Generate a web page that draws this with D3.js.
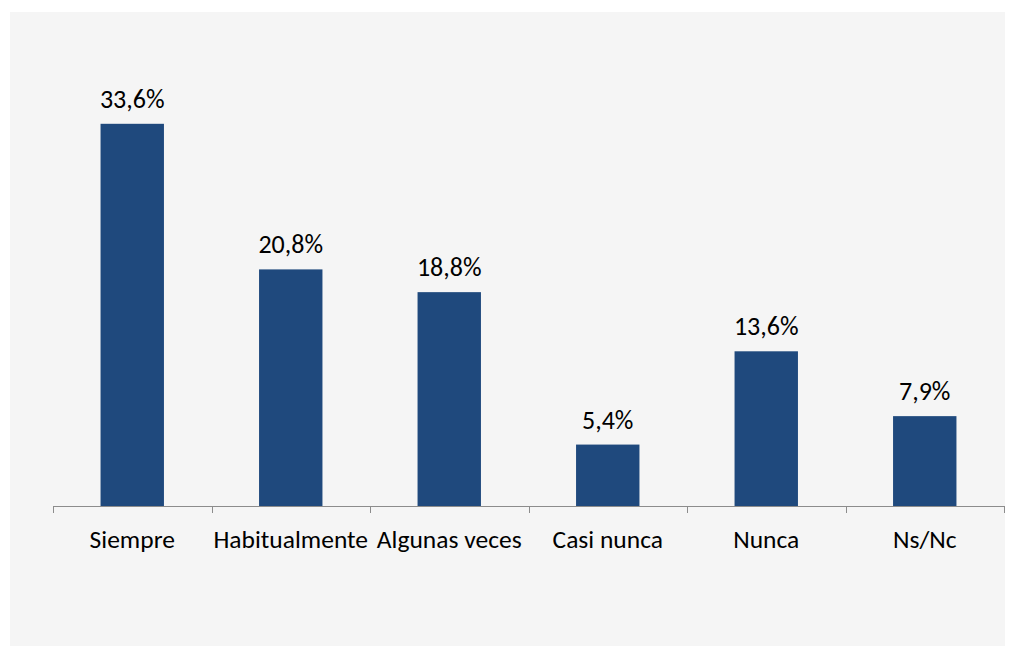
<!DOCTYPE html>
<html>
<head>
<meta charset="utf-8">
<script src="https://cdn.jsdelivr.net/npm/d3@7"></script>
<style>
  html, body { margin: 0; padding: 0; background: #ffffff; }
  svg { display: block; }
  text { font-family: Carlito, Calibri, Lato, "Open Sans", sans-serif; fill: #000; }
</style>
</head>
<body>
<svg id="chart" width="1015" height="646"></svg>
<script>
// Survey responses (percent of respondents)
const categories = ["Siempre", "Habitualmente", "Algunas veces", "Casi nunca", "Nunca", "Ns/Nc"];
const values = [33.6, 20.8, 18.8, 5.4, 13.6, 7.9];
const valueLabels = ["33,6%", "20,8%", "18,8%", "5,4%", "13,6%", "7,9%"];

const svg = d3.select("#chart");

// chart area background
svg.append("rect")
  .attr("x", 10).attr("y", 12)
  .attr("width", 995).attr("height", 634)
  .attr("fill", "#f5f5f5");

const x = d3.scaleBand()
  .domain(categories)
  .range([53, 1004])
  .paddingInner(0.6)
  .paddingOuter(0.3);

const y = d3.scaleLinear()
  .domain([0, 40])
  .range([506, 51]);

const data = categories.map((c, i) => ({ c, v: values[i], label: valueLabels[i] }));

// bars
svg.append("g").selectAll("rect")
  .data(data)
  .join("rect")
  .attr("x", d => x(d.c))
  .attr("y", d => y(d.v))
  .attr("width", x.bandwidth())
  .attr("height", d => y(0) - y(d.v))
  .attr("fill", "#1f497d");

// value labels
svg.append("g").selectAll("text")
  .data(data)
  .join("text")
  .attr("x", d => x(d.c) + x.bandwidth() / 2)
  .attr("y", d => y(d.v) - 16)
  .attr("text-anchor", "middle")
  .style("font-size", "26px")
  .text(d => d.label);

// category axis
const axisBand = d3.scaleBand().domain(categories).range([53, 1004]);
const gx = svg.append("g").attr("transform", "translate(0,506)");
gx.append("line")
  .attr("x1", 53).attr("x2", 1004)
  .attr("y1", 0.5).attr("y2", 0.5)
  .attr("stroke", "#8c8c8c").attr("stroke-width", 1);
// tick marks at category boundaries
const bounds = categories.map(c => axisBand(c)).concat([axisBand.range()[1]]);
gx.selectAll("line.tick")
  .data(bounds)
  .join("line")
  .attr("class", "tick")
  .attr("x1", d => Math.round(d) + 0.5).attr("x2", d => Math.round(d) + 0.5)
  .attr("y1", 0).attr("y2", 7)
  .attr("stroke", "#8c8c8c").attr("stroke-width", 1);
// category labels
gx.selectAll("text.cat")
  .data(categories)
  .join("text")
  .attr("class", "cat")
  .attr("x", d => axisBand(d) + axisBand.bandwidth() / 2)
  .attr("y", 42)
  .attr("text-anchor", "middle")
  .style("font-size", "25.5px")
  .text(d => d);
</script>
</body>
</html>
